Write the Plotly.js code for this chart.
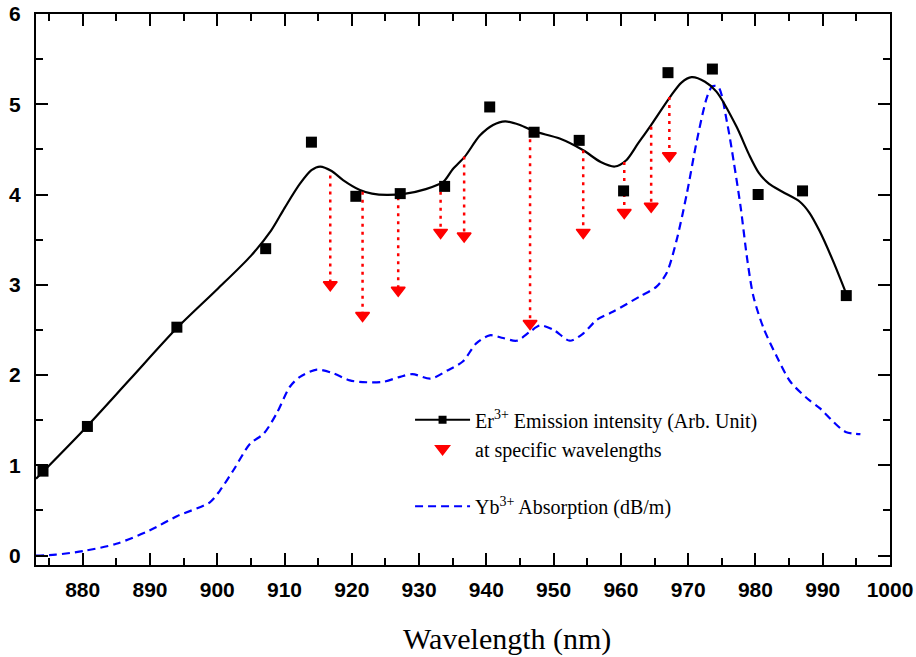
<!DOCTYPE html>
<html>
<head>
<meta charset="utf-8">
<script src="https://cdn.plot.ly/plotly-3.0.1.min.js"></script>
<style>html,body{margin:0;padding:0;background:#fff;}#chart{width:916px;height:657px;}</style>
</head>
<body>
<div id="chart"></div>
<script>
// Er3+ emission intensity: measured points (squares)
const emissionX = [874.1, 880.7, 894.0, 907.2, 914.0, 920.6, 927.2, 933.8, 940.5, 947.1, 953.8, 960.4, 967.0, 973.6, 980.4, 987.0, 993.5];
const emissionY = [0.935, 1.43, 2.53, 3.40, 4.58, 3.98, 4.01, 4.09, 4.97, 4.69, 4.60, 4.04, 5.35, 5.39, 4.00, 4.04, 2.88];

// Er3+ emission: smooth fitted curve
const fitX = [873.06, 880, 887, 894, 900, 905, 908, 910, 912.3, 914, 915.3, 917, 918.7, 921.2, 923, 925.2, 928, 931, 933.6, 935, 936.8, 939, 941, 942.8, 945, 947.1, 950.9, 954.4, 957, 959.1, 960.8, 962.5, 964.3, 967.3, 969, 970.5, 972.5, 974.2, 977.2, 979, 980.5, 982, 984, 986.6, 988, 989.5, 991.5, 993.5];
const fitY = [0.85, 1.38, 1.95, 2.52, 2.95, 3.32, 3.60, 3.85, 4.12, 4.27, 4.31, 4.26, 4.16, 4.05, 4.01, 3.995, 4.01, 4.06, 4.14, 4.28, 4.42, 4.65, 4.77, 4.81, 4.77, 4.70, 4.62, 4.49, 4.36, 4.31, 4.38, 4.56, 4.75, 5.08, 5.24, 5.30, 5.25, 5.14, 4.75, 4.45, 4.24, 4.12, 4.03, 3.92, 3.80, 3.60, 3.27, 2.90];

// Er3+ emission at specific wavelengths (red arrows)
const arrowX = [916.8, 921.6, 926.9, 933.2, 936.7, 946.5, 954.4, 960.5, 964.5, 967.2];
const arrowTopY = [4.21, 4.03, 3.97, 4.12, 4.42, 4.70, 4.49, 4.36, 4.75, 5.08];
const arrowY = [3.00, 2.66, 2.94, 3.58, 3.54, 2.57, 3.58, 3.80, 3.87, 4.43];

// Yb3+ absorption (dB/m)
const absX = [873.06, 876, 880.1, 885.0, 890.0, 894.0, 898.9, 900.4, 902.4, 904.9, 906.9, 908.8, 910.8, 912.3, 914.8, 917.2, 919.7, 922.2, 924.7, 927.2, 929.0, 931.7, 934.2, 936.5, 938.5, 940.5, 942.5, 944.5, 946.5, 948.0, 950.0, 952.4, 954.4, 956.4, 958.8, 962.8, 965.3, 966.8, 968.3, 969.8, 971.3, 972.8, 973.6, 974.5, 975.8, 976.8, 977.8, 978.8, 979.7, 981.2, 983.2, 985.2, 987.7, 989.6, 991.6, 993.4, 995.6];
const absY = [0.00, 0.01, 0.05, 0.13, 0.28, 0.435, 0.59, 0.72, 0.945, 1.24, 1.35, 1.57, 1.87, 1.98, 2.06, 2.02, 1.94, 1.92, 1.925, 1.98, 2.01, 1.96, 2.05, 2.15, 2.35, 2.44, 2.41, 2.38, 2.48, 2.55, 2.50, 2.38, 2.46, 2.61, 2.70, 2.87, 2.98, 3.13, 3.50, 4.01, 4.60, 5.08, 5.20, 5.19, 4.79, 4.35, 3.86, 3.27, 2.87, 2.52, 2.20, 1.925, 1.74, 1.63, 1.48, 1.37, 1.345];

const xTicks = [880, 890, 900, 910, 920, 930, 940, 950, 960, 970, 980, 990, 1000];
const yTicks = [0, 1, 2, 3, 4, 5, 6];

const legendEr = 'Er<sup>3+</sup> Emission intensity (Arb. Unit)';
const legendArrow = 'at specific wavelengths';
const legendYb = 'Yb<sup>3+</sup> Absorption (dB/m)';

// dotted drop lines built from arrow arrays
const dropX = [], dropY = [];
arrowX.forEach((x, i) => { dropX.push(x, x, null); dropY.push(arrowTopY[i], arrowY[i], null); });

const traces = [
  {x: absX, y: absY, mode: 'lines', line: {color: '#0000FF', width: 2.2, dash: '8px,5px', shape: 'spline', smoothing: 0.8},
   name: legendYb, legend: 'legend2', hoverinfo: 'x+y'},
  {x: fitX, y: fitY, mode: 'lines', line: {color: '#000000', width: 2.2, shape: 'spline', smoothing: 0.8}, showlegend: false},
  {x: dropX, y: dropY, mode: 'lines', line: {color: '#FF0000', width: 2.5, dash: '3px,5px'}, showlegend: false, connectgaps: false},
  {x: emissionX, y: emissionY, mode: 'markers', marker: {symbol: 'square', size: 11, color: '#000000'}, showlegend: false},
  {x: [null], y: [null], mode: 'lines+markers', line: {color: '#000000', width: 2.2}, marker: {symbol: 'square', size: 8, color: '#000000'}, name: legendEr},
  {x: arrowX, y: arrowY, mode: 'markers', marker: {symbol: 'triangle-down', size: 12, color: '#FF0000', line: {color: '#FF0000', width: 1.5}}, name: legendArrow}
];

const tickFont = {family: 'Liberation Sans, Arial, sans-serif', size: 21, color: '#000', weight: 'bold'};

const layout = {
  width: 916, height: 657,
  margin: {l: 36, r: 26, t: 14, b: 92},
  paper_bgcolor: '#ffffff', plot_bgcolor: '#ffffff',
  showlegend: true,
  xaxis: {
    range: [873.06, 1000], tickvals: xTicks, ticks: 'inside', ticklen: 12, tickwidth: 2, tickcolor: '#000',
    minor: {dtick: 5, tick0: 875, ticks: 'inside', ticklen: 7, tickwidth: 2, tickcolor: '#000'},
    showline: true, linewidth: 2, linecolor: '#000', mirror: 'ticks', showgrid: false, zeroline: false,
    tickfont: tickFont, ticklabelstandoff: 5
  },
  yaxis: {
    range: [-0.105, 6], tickvals: yTicks, ticks: 'inside', ticklen: 12, tickwidth: 2, tickcolor: '#000',
    minor: {dtick: 0.5, tick0: 0, ticks: 'inside', ticklen: 7, tickwidth: 2, tickcolor: '#000'},
    showline: true, linewidth: 2, linecolor: '#000', mirror: 'ticks', showgrid: false, zeroline: false,
    tickfont: tickFont, ticklabelstandoff: 9
  },
  legend: {
    x: 0.438, y: 0.299, xanchor: 'left', yanchor: 'top', bgcolor: 'rgba(0,0,0,0)', borderwidth: 0,
    font: {family: 'Liberation Serif, Times New Roman, serif', size: 20, color: '#000'}, itemwidth: 55, traceorder: 'normal'
  },
  legend2: {
    x: 0.438, y: 0.142, xanchor: 'left', yanchor: 'top', bgcolor: 'rgba(0,0,0,0)', borderwidth: 0,
    font: {family: 'Liberation Serif, Times New Roman, serif', size: 20, color: '#000'}, itemwidth: 55
  },
  annotations: [{
    text: 'Wavelength (nm)', xref: 'paper', yref: 'paper', x: 0.551, y: -0.134, xanchor: 'center', yanchor: 'middle',
    showarrow: false, font: {family: 'Liberation Serif, Times New Roman, serif', size: 30, color: '#000'}
  }]
};

Plotly.newPlot('chart', traces, layout, {displayModeBar: false, staticPlot: true});
</script>
</body>
</html>
